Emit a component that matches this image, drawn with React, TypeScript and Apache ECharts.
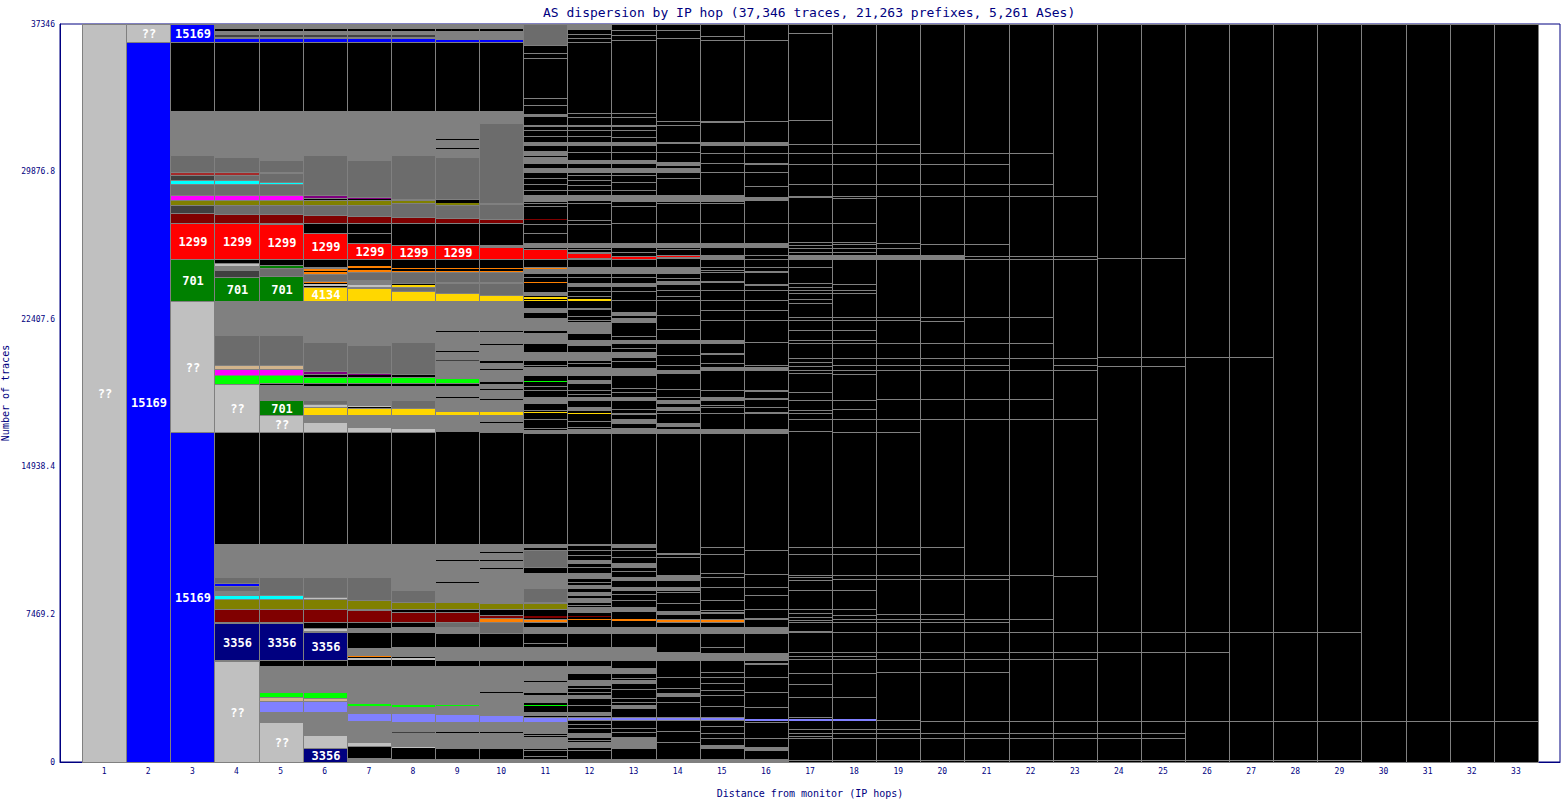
import React, { useEffect, useRef } from 'react';
import * as echarts from 'echarts';

const TITLE = 'AS dispersion by IP hop (37,346 traces, 21,263 prefixes, 5,261 ASes)';
const TOTAL_TRACES = 37346;
const HOPS = [1, 2, 3, 4, 5, 6, 7, 8, 9, 10, 11, 12, 13, 14, 15, 16, 17, 18, 19, 20, 21, 22, 23, 24, 25, 26, 27, 28, 29, 30, 31, 32, 33];
const Y_TICKS = [0, 7469.2, 14938.4, 22407.6, 29876.8, 37346];

const COLORS: Record<string, string> = {
  K: '#000000', S: '#808080', D: '#404040', DS: '#6c6c6c', L: '#c0c0c0', B: '#0000ff', N: '#000080',
  R: '#ff0000', G: '#008000', Y: '#ffd700', M: '#800000', O: '#808000', C: '#00ffff', P: '#ff00ff',
  V: '#800080', T: '#d2b48c', LG: '#00ff00', LV: '#8080ff', OR: '#ff8000', BR: '#a52a2a',
};

type Band = [number, number, string, string?];

const topBands: Band[] = [[36432, 37346, 'S'], [36989, 37089, 'K'], [36686, 36786, 'D'], [36432, 36634, 'B']];

const bands01: Band[] = [[0, 37346, 'L', '??']];
const bands02: Band[] = [[0, 36432, 'B', '15169'], [36432, 37346, 'L', '??']];
const bands03: Band[] = [
  [0, 16698, 'B', '15169'], [16698, 23327, 'L', '??'], [23327, 25452, 'G', '701'], [25452, 27273, 'R', '1299'],
  [27273, 27779, 'M'], [27779, 28184, 'D'], [28184, 28437, 'O'], [28437, 28690, 'P'], [28690, 29247, 'DS'],
  [29247, 29449, 'C'], [29449, 29702, 'D'], [29702, 29854, 'BR'], [29854, 30714, 'DS'], [30714, 32941, 'S'],
  [36432, 37346, 'B', '15169'],
];
const bands04: Band[] = [
  [0, 5111, 'L', '??'], [5161, 7033, 'N', '3356'], [7084, 7742, 'M'], [7742, 8248, 'O'], [8248, 8450, 'C'],
  [8450, 8653, 'S'], [8653, 8906, 'DS'], [8906, 9057, 'B'], [9057, 9361, 'DS'], [9361, 11031, 'S'],
  [16698, 19127, 'L', '??'], [19127, 19582, 'LG'], [19582, 19886, 'P'], [19886, 20088, 'T'], [20088, 21606, 'DS'],
  [21606, 23327, 'S'], [23327, 24541, 'G', '701'], [24541, 24895, 'D'], [24895, 25098, 'S'], [25098, 25249, 'L'],
  [25452, 27273, 'R', '1299'], [27273, 27729, 'M'], [27729, 28184, 'DS'], [28184, 28437, 'O'], [28437, 28690, 'P'],
  [28690, 29247, 'DS'], [29247, 29449, 'C'], [29449, 29702, 'DS'], [29702, 29854, 'BR'], [29854, 30613, 'DS'],
  [30613, 32941, 'S'], ...topBands,
];
const bands05: Band[] = [
  [0, 2024, 'L', '??'], [2024, 2530, 'S'], [2530, 3087, 'LV'], [3087, 3289, 'T'], [3289, 3542, 'LG'], [3542, 4858, 'S'],
  [5161, 7033, 'N', '3356'], [7084, 7742, 'M'], [7742, 8248, 'O'], [8248, 8450, 'C'], [8450, 9361, 'DS'], [9361, 11031, 'S'],
  [16698, 17558, 'L', '??'], [17558, 18317, 'G', '701'], [18317, 19076, 'S'], [19177, 19582, 'LG'], [19582, 19886, 'P'],
  [19886, 20088, 'T'], [20088, 21606, 'DS'], [21606, 23327, 'S'], [23327, 24592, 'G', '701'], [24592, 24996, 'DS'],
  [24996, 25148, 'G'], [25452, 27223, 'R', '1299'], [27273, 27729, 'M'], [27729, 28184, 'DS'], [28184, 28437, 'O'],
  [28437, 28690, 'P'], [28690, 29247, 'DS'], [29247, 29348, 'C'], [29348, 29803, 'DS'], [29803, 29854, 'BR'],
  [29854, 30461, 'DS'], [30461, 32941, 'S'], ...topBands,
];
const bands06: Band[] = [
  [0, 708, 'N', '3356'], [708, 1366, 'L'], [1366, 2530, 'S'], [2530, 3087, 'LV'], [3087, 3238, 'T'], [3238, 3542, 'LG'],
  [3542, 4858, 'S'], [5161, 6578, 'N', '3356'], [6629, 6780, 'L'], [7084, 7742, 'M'], [7742, 8248, 'O'], [8248, 8349, 'L'],
  [8349, 9361, 'DS'], [9361, 11031, 'S'], [16698, 17204, 'L'], [17204, 17558, 'S'], [17558, 17963, 'Y'], [17963, 18115, 'L'],
  [18115, 18317, 'DS'], [18317, 19026, 'S'], [19177, 19481, 'LG'], [19633, 19785, 'V'], [19785, 21252, 'DS'], [21252, 23327, 'S'],
  [23327, 24035, 'Y', '4134'], [24086, 24187, 'L'], [24237, 24339, 'OR'], [24339, 24693, 'DS'], [24693, 24794, 'OR'],
  [24845, 24946, 'OR'], [24946, 25047, 'S'], [25452, 26767, 'R', '1299'], [27273, 27678, 'M'], [27678, 28184, 'DS'],
  [28184, 28437, 'O'], [28538, 28690, 'V'], [28690, 30714, 'DS'], [30714, 32941, 'S'], ...topBands,
];
const bands07: Band[] = [
  [0, 202, 'S'], [810, 1012, 'L'], [1012, 2024, 'S'], [2075, 2479, 'LV'], [2479, 2783, 'S'], [2834, 2985, 'LG'],
  [2985, 4858, 'S'], [5161, 5262, 'L'], [5313, 5414, 'OR'], [5414, 5768, 'S'], [6578, 6780, 'S'], [7084, 7691, 'M'],
  [7742, 8197, 'O'], [8197, 9361, 'DS'], [9361, 11031, 'S'], [16698, 16951, 'L'], [16951, 17558, 'S'], [17558, 17912, 'Y'],
  [17963, 18064, 'L'], [18064, 19026, 'S'], [19177, 19481, 'LG'], [19582, 19683, 'V'], [19683, 21100, 'DS'], [21100, 23327, 'S'],
  [23327, 23984, 'Y'], [24035, 24187, 'L'], [24187, 24389, 'S'], [24389, 24794, 'DS'], [24794, 24895, 'OR'], [24996, 25098, 'OR'],
  [25452, 26261, 'R', '1299'], [26717, 26767, 'S'], [27273, 27628, 'M'], [27628, 28184, 'DS'], [28184, 28437, 'O'],
  [28488, 28589, 'V'], [28589, 30461, 'DS'], [30461, 32941, 'S'], ...topBands,
];
const bands08: Band[] = [
  [0, 152, 'S'], [708, 810, 'L'], [810, 2024, 'S'], [1467, 1518, 'D'], [2024, 2479, 'LV'], [2479, 2783, 'S'], [2783, 2935, 'LG'],
  [2935, 4858, 'S'], [5161, 5262, 'L'], [5313, 5364, 'OR'], [5364, 5819, 'S'], [6578, 6831, 'S'], [7084, 7590, 'M'],
  [7742, 8096, 'O'], [8096, 8703, 'DS'], [8703, 11031, 'S'], [16698, 16900, 'L'], [16900, 17558, 'S'], [17558, 17912, 'Y'],
  [17912, 18317, 'DS'], [18317, 19026, 'S'], [19177, 19481, 'LG'], [19582, 19633, 'V'], [19633, 21252, 'DS'], [21252, 23327, 'S'],
  [23327, 23833, 'Y'], [23833, 24035, 'DS'], [24035, 24136, 'Y'], [24187, 24237, 'OR'], [24237, 24794, 'DS'], [24794, 24845, 'OR'],
  [24946, 24996, 'OR'], [25452, 26160, 'R', '1299'], [27273, 27577, 'M'], [27577, 28285, 'DS'], [28285, 28437, 'O'],
  [28437, 28488, 'V'], [28488, 30714, 'DS'], [30714, 32941, 'S'], ...topBands,
];
const bands09: Band[] = [
  [0, 152, 'S'], [708, 2024, 'S'], [1467, 1518, 'K'], [2024, 2429, 'LV'], [2429, 2834, 'S'], [2834, 2935, 'LG'], [2935, 4858, 'S'],
  [5161, 5819, 'S'], [6527, 6831, 'S'], [6831, 7084, 'DS'], [7084, 7590, 'M'], [7742, 8096, 'O'], [8096, 11031, 'S'],
  [10171, 10221, 'K'], [9057, 9108, 'K'], [16698, 16749, 'L'], [16749, 17558, 'S'], [17558, 17761, 'Y'], [17761, 19026, 'S'],
  [18418, 18469, 'K'], [19177, 19430, 'LG'], [19430, 23327, 'S'], [21758, 21809, 'K'], [20746, 20796, 'K'], [20291, 20341, 'D'],
  [23327, 23731, 'Y'], [23731, 24237, 'DS'], [24237, 24288, 'OR'], [24288, 24794, 'DS'], [24794, 24845, 'OR'], [24946, 24996, 'OR'],
  [25452, 26160, 'R', '1299'], [27273, 27527, 'M'], [27527, 28184, 'DS'], [28184, 28285, 'O'], [28437, 28488, 'V'],
  [28488, 30613, 'DS'], [30613, 32941, 'S'], [31473, 31524, 'K'], [31018, 31068, 'K'], [36432, 37346, 'S'], [36989, 37089, 'K'],
  [36432, 36583, 'B'],
];
const bands10: Band[] = [
  [0, 152, 'S'], [708, 2024, 'S'], [1467, 1518, 'K'], [2024, 2378, 'LV'], [2378, 2834, 'S'], [2834, 2884, 'LG'], [2884, 4858, 'S'],
  [3491, 3542, 'K'], [5161, 5819, 'S'], [6527, 7084, 'DS'], [7084, 7286, 'OR'], [7286, 7438, 'M'], [7742, 8045, 'O'],
  [8045, 11031, 'S'], [10575, 10625, 'K'], [10171, 10221, 'K'], [9766, 9816, 'K'], [16698, 17153, 'S'], [17255, 17558, 'S'],
  [17558, 17761, 'Y'], [17761, 19127, 'S'], [18823, 18874, 'K'], [18317, 18368, 'K'], [19228, 19279, 'LG'], [19279, 23327, 'S'],
  [21758, 21809, 'K'], [21100, 21151, 'K'], [20189, 20291, 'K'], [19835, 19886, 'K'], [23327, 23630, 'Y'], [23630, 24237, 'DS'],
  [24237, 24288, 'OR'], [24288, 24794, 'DS'], [24794, 24845, 'OR'], [24946, 24996, 'OR'], [25452, 26059, 'R'], [26059, 26160, 'S'],
  [27273, 27476, 'M'], [27476, 28235, 'DS'], [28235, 28285, 'O'], [28285, 32333, 'DS'], [32333, 32941, 'S'],
  [36432, 37346, 'S'], [36989, 37089, 'K'], [36432, 36583, 'B'],
];
const bands11: Band[] = [
  [0, 152, 'S'], [708, 1265, 'S'], [1467, 2024, 'S'], [2024, 2277, 'LV'], [2378, 2530, 'S'], [2834, 2884, 'LG'], [3036, 3390, 'S'],
  [3542, 4048, 'S'], [4149, 4858, 'S'], [5161, 5819, 'S'], [6527, 6831, 'S'], [7084, 7236, 'OR'], [7286, 7388, 'M'],
  [7742, 8045, 'O'], [8096, 8804, 'DS'], [8804, 9563, 'S'], [9867, 10727, 'DS'], [10879, 11031, 'S'], [16647, 16799, 'S'],
  [17659, 17710, 'Y'], [18165, 18469, 'S'], [19228, 19279, 'LG'], [19582, 19987, 'S'], [20341, 20746, 'S'], [21201, 21707, 'S'],
  [21859, 22466, 'S'], [22770, 22972, 'S'], [23327, 23377, 'Y'], [23428, 23529, 'Y'], [23630, 23782, 'S'], [24237, 24288, 'OR'],
  [24743, 25047, 'S'], [24946, 24996, 'OR'], [25452, 25958, 'R'], [26059, 26261, 'S'], [27425, 27476, 'M'], [28387, 28690, 'S'],
  [29854, 30056, 'S'], [30309, 30613, 'S'], [30714, 30917, 'S'], [31220, 31372, 'S'], [32131, 32232, 'S'], [32637, 32738, 'S'],
  [36280, 37346, 'DS'],
];
const bands12: Band[] = [
  [0, 152, 'S'], [759, 1012, 'S'], [1265, 1467, 'S'], [2125, 2277, 'LV'], [2378, 2530, 'S'], [3238, 3390, 'S'], [3895, 4149, 'S'],
  [4503, 4858, 'S'], [5161, 5819, 'S'], [6527, 6831, 'S'], [7185, 7236, 'OR'], [7337, 7388, 'M'], [7590, 7843, 'S'],
  [8096, 8298, 'S'], [8450, 8602, 'S'], [8804, 8956, 'S'], [9310, 9563, 'S'], [10069, 10221, 'S'], [10930, 11031, 'S'],
  [16647, 16850, 'S'], [17609, 17659, 'Y'], [17811, 17963, 'S'], [18317, 18469, 'S'], [19177, 19329, 'S'], [19582, 19987, 'S'],
  [20341, 20746, 'S'], [21100, 21353, 'S'], [21707, 22264, 'S'], [22871, 22972, 'S'], [23327, 23428, 'Y'], [24086, 24237, 'S'],
  [24743, 25047, 'S'], [25502, 25755, 'R'], [26059, 26261, 'S'], [28437, 28690, 'S'], [29854, 30056, 'S'], [30309, 30461, 'S'],
  [30815, 30866, 'S'], [31220, 31372, 'S'], [32131, 32232, 'S'], [37148, 37346, 'S'],
];
const bands13: Band[] = [
  [0, 152, 'S'], [708, 961, 'S'], [1012, 1265, 'S'], [2125, 2277, 'LV'], [2732, 2884, 'S'], [3997, 4149, 'S'], [4503, 4756, 'S'],
  [5161, 5819, 'S'], [6527, 6831, 'S'], [7135, 7236, 'OR'], [7640, 7843, 'S'], [8703, 8855, 'S'], [9209, 9361, 'S'],
  [9867, 10069, 'S'], [10879, 11031, 'S'], [16647, 16900, 'S'], [17153, 17356, 'S'], [17558, 17659, 'S'], [18317, 18469, 'S'],
  [19582, 19936, 'S'], [20493, 20746, 'S'], [21201, 21353, 'S'], [22264, 22466, 'S'], [22618, 22770, 'S'], [24086, 24237, 'S'],
  [24743, 25047, 'S'], [25452, 25604, 'R'], [26059, 26261, 'S'], [28387, 28690, 'S'], [29854, 30056, 'S'], [30309, 30461, 'S'],
  [30815, 30866, 'S'], [31220, 31372, 'S'], [32131, 32232, 'S'],
];
const bands14: Band[] = [
  [0, 152, 'S'], [2125, 2277, 'LV'], [3340, 3491, 'S'], [5161, 5566, 'S'], [6527, 6831, 'S'], [7084, 7236, 'OR'],
  [7489, 7640, 'S'], [8703, 8855, 'S'], [9209, 9462, 'S'], [10474, 10575, 'S'], [16647, 16850, 'S'], [17002, 17153, 'S'],
  [17811, 17963, 'S'], [18165, 18317, 'S'], [19683, 19835, 'S'], [21201, 21353, 'S'], [24187, 24338, 'S'], [24743, 25047, 'S'],
  [25502, 25654, 'S'], [25553, 25604, 'R'], [26059, 26261, 'S'], [28387, 28690, 'S'], [29854, 30056, 'S'], [30208, 30360, 'S'],
  [30815, 30866, 'S'], [31271, 31372, 'S'],
];
const bands15: Band[] = [
  [0, 152, 'S'], [708, 860, 'S'], [2125, 2277, 'LV'], [5161, 5515, 'S'], [6527, 6831, 'S'], [7084, 7236, 'OR'], [7489, 7590, 'S'],
  [16647, 16850, 'S'], [17912, 17963, 'S'], [18317, 18469, 'S'], [19835, 19987, 'S'], [20594, 20695, 'S'], [21201, 21353, 'S'],
  [24237, 24338, 'S'], [24996, 25047, 'S'], [25452, 25654, 'S'], [26059, 26261, 'S'], [28387, 28690, 'S'], [30259, 30309, 'S'],
  [31220, 31372, 'S'],
];
const bands16: Band[] = [
  [0, 152, 'S'], [607, 759, 'S'], [2075, 2176, 'LV'], [4908, 5010, 'S'], [5161, 5515, 'S'], [6527, 6831, 'S'], [7185, 7286, 'S'],
  [16647, 16850, 'S'], [17609, 17710, 'S'], [17912, 17963, 'S'], [18317, 18418, 'S'], [18722, 18823, 'S'], [19835, 19987, 'S'],
  [21201, 21252, 'S'], [24086, 24187, 'S'], [24743, 24845, 'S'], [24996, 25047, 'S'], [26059, 26261, 'S'], [28437, 28589, 'S'],
  [30208, 30309, 'S'], [31220, 31372, 'S'],
];
const bands17: Band[] = [[2075, 2176, 'LV'], [25452, 25654, 'S']];
const bands18: Band[] = [[2075, 2176, 'LV'], [25452, 25654, 'S']];
const bands19: Band[] = [[25452, 25654, 'S']];
const bands20: Band[] = [[25452, 25654, 'S']];

const lines11 = [32790, 31979, 31676, 29550, 29247, 28943, 28285, 28134, 27223, 26767, 24541, 22264, 20088, 19026, 18823, 17811, 17356, 16900, 10525, 10069, 7995, 6021, 1670, 1366, 607, 303, 35875, 35622, 33599, 33245];
const lines12 = [37096, 36837, 36634, 36432, 32839, 32637, 31979, 31676, 29702, 29449, 29196, 28943, 28285, 27425, 27223, 25958, 25806, 25452, 24541, 23832, 23580, 22568, 22365, 20189, 18823, 18621, 18368, 17254, 16951, 10727, 10474, 9867, 9108, 7944, 3744, 3542, 2884, 1923, 1720, 1113, 607];
const lines13 = [37046, 36786, 36533, 32839, 32637, 31979, 31625, 29702, 29348, 28943, 28134, 27273, 25806, 24541, 23832, 23377, 21556, 20946, 20291, 18924, 18722, 17861, 10727, 10373, 9665, 8501, 8197, 4250, 3693, 3238, 3036, 1720, 1517];
const lines14 = [37046, 36634, 32435, 32232, 29550, 28285, 27273, 25958, 24490, 23883, 23580, 23377, 22618, 21910, 20594, 20088, 18874, 18469, 17659, 16749, 10373, 8602, 8045, 4301, 3744, 3036, 1568, 1012];
const lines15 = [36735, 36533, 32435, 32384, 30815, 29854, 28285, 27273, 24895, 24794, 23883, 23377, 22871, 22365, 20189, 18823, 18064, 17659, 10879, 10525, 9563, 9361, 8855, 8197, 7691, 5819, 4554, 4301, 3997, 3643, 3390, 2834, 1822, 1467, 1214];
const lines16 = [36533, 32435, 30815, 29854, 29145, 27273, 25654, 25452, 23883, 23377, 22871, 22365, 20088, 10727, 9513, 8855, 8450, 7741, 4301, 3542, 2783, 2024, 1214, 101];
const lines17 = [36888, 32485, 31271, 30815, 30259, 29247, 28640, 28589, 27273, 26312, 26160, 26008, 25806, 25654, 25553, 25452, 25047, 24237, 24035, 23883, 23731, 23428, 23225, 22517, 22365, 21859, 21353, 21201, 20442, 20240, 20038, 19835, 19683, 18722, 18317, 17811, 17659, 17356, 16749, 10879, 10525, 9462, 9361, 9209, 8703, 7742, 7539, 7337, 7185, 7084, 6629, 6578, 5566, 5364, 5212, 4503, 3947, 3289, 2277, 1670, 1467, 1315, 1214, 101];
const lines18 = [31271, 30815, 30259, 29247, 28640, 28538, 27273, 26312, 26211, 26008, 25806, 25654, 25452, 24187, 23883, 23731, 22517, 22365, 21859, 21353, 21201, 20442, 20088, 19835, 19633, 18317, 17862, 17356, 16698, 10879, 10525, 9462, 9260, 8703, 7742, 7438, 7236, 7084, 6578, 5566, 5364, 5212, 4503, 3289, 1670, 1467, 1214, 101];
const lines19 = [31271, 30815, 30259, 29247, 28640, 26261, 26008, 25604, 25452, 22517, 22365, 21201, 20442, 20088, 19835, 18368, 17356, 16698, 10879, 10525, 9462, 9260, 7489, 7236, 7084, 6578, 5566, 5212, 4554, 2125, 1670, 1467, 1214, 101];
const lines20 = [30815, 30259, 29247, 28640, 26211, 25604, 25452, 22517, 22315, 21201, 20442, 20088, 19835, 18368, 17356, 10879, 9462, 9260, 7489, 7236, 7084, 6578, 5566, 5212, 4554, 2075, 1467, 1214, 101];
const lines21 = [30815, 30259, 29247, 28640, 26211, 25604, 25452, 22517, 21201, 20442, 20088, 19835, 18368, 17356, 9462, 9260, 7236, 7084, 6578, 5566, 5212, 4554, 2075, 1467, 1214, 101];
const lines22 = [30815, 29247, 28640, 25604, 25452, 22517, 21201, 20442, 19835, 18368, 17356, 9462, 7236, 6578, 5566, 5212, 2075, 1467, 1214, 101];
const lines23 = [28640, 25604, 25452, 20442, 20088, 19835, 17356, 9412, 6578, 5566, 5212, 2075, 1467, 1214, 101];
const lines24 = [25502, 20493, 20038, 6578, 5566, 2075, 1467, 1214, 101];
const lines25 = [25502, 20493, 20038, 6578, 5566, 2075, 1467, 1214, 101];
const lines26 = [20493, 6578, 5566, 2075, 101];
const lines27 = [20493, 6578, 2075, 101];
const lines28 = [6578, 2075, 101];
const lines29 = [6578, 2075, 101];
const lines30 = [2075];
const lines31 = [2075];
const lines32 = [2075];
const lines33 = [2075];

const BANDS_BY_HOP: Band[][] = [
  bands01, bands02, bands03, bands04, bands05, bands06, bands07, bands08, bands09, bands10, bands11, bands12, bands13,
  bands14, bands15, bands16, bands17, bands18, bands19, bands20,
];
const LINES_BY_HOP: number[][] = [
  [], [], [], [], [], [], [], [], [], [], lines11, lines12, lines13, lines14, lines15, lines16, lines17, lines18, lines19,
  lines20, lines21, lines22, lines23, lines24, lines25, lines26, lines27, lines28, lines29, lines30, lines31, lines32, lines33,
];

const FONT = '"DejaVu Sans Mono", monospace';
const NAVY = '#000080';

export default function App() {
  const ref = useRef<HTMLDivElement>(null);
  useEffect(() => {
    if (!ref.current) return;
    const chart = echarts.init(ref.current, undefined, { renderer: 'svg' });

    const bandData: number[][] = [];
    const bandMeta: { c: string; label?: string }[] = [];
    BANDS_BY_HOP.forEach((list, i) => {
      list.forEach((b) => {
        bandData.push([HOPS[i], b[0], b[1]]);
        bandMeta.push({ c: b[2], label: b[3] });
      });
    });
    const lineData: number[][] = [];
    LINES_BY_HOP.forEach((list, i) => list.forEach((v) => lineData.push([HOPS[i], v])));
    const baseData = HOPS.map((h) => [h, 0, TOTAL_TRACES]);

    const rectRender = (metaFn: (i: number) => { c: string; label?: string }) => (params: any, api: any) => {
      const hop = api.value(0), lo = api.value(1), hi = api.value(2);
      const p1 = api.coord([hop - 0.5, hi]);
      const p2 = api.coord([hop + 0.5, lo]);
      const x = Math.round(p1[0]), x2 = Math.round(p2[0]);
      const y = Math.round(p1[1]), y2 = Math.round(p2[1]);
      const h = Math.max(1, y2 - y);
      const meta = metaFn(params.dataIndex);
      const thick = h >= 3;
      const children: any[] = [{
        type: 'rect',
        shape: thick ? { x: x + 0.5, y: y + 0.5, width: x2 - x, height: h } : { x: x + 1, y, width: x2 - x - 1, height: h },
        style: { fill: COLORS[meta.c], stroke: thick ? '#808080' : null, lineWidth: 1 },
      }];
      if (meta.label) {
        children.push({
          type: 'text',
          style: {
            text: meta.label, x: (x + x2) / 2 + 1, y: y + h / 2 + 1, fill: '#ffffff',
            font: `bold 12px ${FONT}`, align: 'center', verticalAlign: 'middle',
          },
        });
      }
      return { type: 'group', children };
    };

    chart.setOption({
      animation: false,
      backgroundColor: '#ffffff',
      title: {
        text: TITLE, left: 538, top: 1,
        textStyle: { color: NAVY, fontSize: 13, fontWeight: 'normal', fontFamily: FONT },
      },
      grid: {
        left: 60, right: 2, top: 24, bottom: 38, show: true, borderColor: NAVY, borderWidth: 1,
        backgroundColor: 'transparent', outerBoundsMode: 'none', containLabel: false,
      },
      xAxis: {
        type: 'value', min: 0, max: 34, interval: 1,
        name: 'Distance from monitor (IP hops)', nameLocation: 'middle', nameGap: 26,
        nameTextStyle: { color: NAVY, fontSize: 10, fontFamily: FONT },
        axisLine: { lineStyle: { color: NAVY } }, axisTick: { show: false }, splitLine: { show: false },
        axisLabel: {
          color: NAVY, fontSize: 8, fontFamily: FONT, margin: 5,
          formatter: (v: number) => (v >= HOPS[0] && v <= HOPS[HOPS.length - 1] ? String(v) : ''),
        },
      },
      yAxis: {
        type: 'value', min: Y_TICKS[0], max: Y_TICKS[Y_TICKS.length - 1], interval: Y_TICKS[1],
        name: 'Number of traces', nameLocation: 'middle', nameGap: 47,
        nameTextStyle: { color: NAVY, fontSize: 10, fontFamily: FONT },
        axisLine: { show: true, lineStyle: { color: NAVY } }, axisTick: { show: false }, splitLine: { show: false },
        axisLabel: {
          color: NAVY, fontSize: 8, fontFamily: FONT, margin: 5, showMinLabel: true, showMaxLabel: true,
          formatter: (v: number) => String(parseFloat(v.toFixed(1))),
        },
      },
      series: [
        { type: 'custom', name: 'base', data: baseData, renderItem: rectRender(() => ({ c: 'K' })), z: 1 },
        {
          type: 'custom', name: 'lines', data: lineData, z: 2,
          renderItem: (params: any, api: any) => {
            const hop = api.value(0), v = api.value(1);
            const p1 = api.coord([hop - 0.5, v]);
            const p2 = api.coord([hop + 0.5, v]);
            const y = Math.round(p1[1]) + 0.5;
            return { type: 'line', shape: { x1: Math.round(p1[0]), y1: y, x2: Math.round(p2[0]), y2: y }, style: { stroke: '#808080', lineWidth: 1 } };
          },
        },
        { type: 'custom', name: 'bands', data: bandData, renderItem: rectRender((i) => bandMeta[i]), z: 3 },
      ],
    });
    return () => chart.dispose();
  }, []);
  return <div ref={ref} style={{ position: 'fixed', left: 0, top: 0, width: 1562, height: 800 }} />;
}
